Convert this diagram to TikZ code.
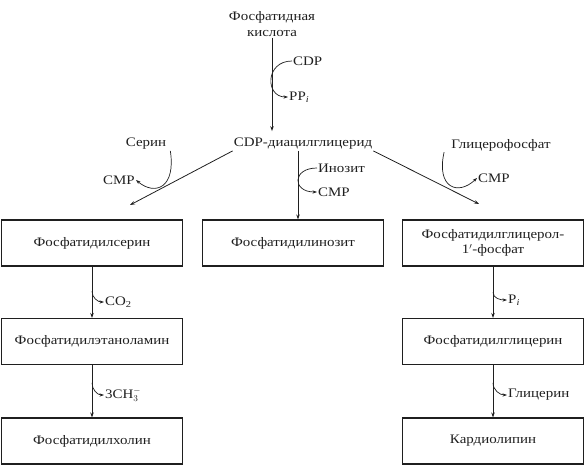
\documentclass[tikz,border=0pt]{standalone}
\usepackage{fontspec}
\setmainfont{Liberation Serif}[FakeStretch=1.15]
\usetikzlibrary{arrows.meta,calc}
\definecolor{ink}{gray}{0.12}
\begin{document}
\begin{tikzpicture}[x=1pt,y=-1pt,
  every node/.style={font=\fontsize{13}{15.5}\selectfont, text=ink},
  box/.style={draw=ink, line width=1.1pt, minimum width=181pt, minimum height=46pt, align=center, inner sep=2pt},
  lbl/.style={inner sep=1pt},
  arr/.style={draw=ink, line width=0.8pt, -{Stealth[length=5pt,width=3.5pt]}},
  hk/.style={draw=ink, line width=0.7pt, -{Stealth[length=4.5pt,width=3.2pt]}}]
\useasboundingbox (0,0) rectangle (586,466);

% boxes
\node[box] (ps)  at (92,243)    {Фосфатидилсерин};
\node[box] (pi)  at (293,243)   {Фосфатидилинозит};
\node[box] (pgp) at (493,243)   {Фосфатидилглицерол-\\1$'$-фосфат};
\node[box] (pe)  at (92,341.5)  {Фосфатидилэтаноламин};
\node[box] (pg)  at (493,341.5) {Фосфатидилглицерин};
\node[box] (pc)  at (92,441)    {Фосфатидилхолин};
\node[box] (cl)  at (493,441)   {Кардиолипин};

% top part
\node[lbl, align=center] (pa) at (272,24) {Фосфатидная\\кислота};
\node[lbl, anchor=west] (cdp) at (292,61) {CDP};
\node[lbl, anchor=west] (ppi) at (288,97) {PP\textsubscript{\textit{i}}};
\node[lbl] (cdpd) at (303,144) {CDP-диацилглицерид};
\node[lbl] (ser) at (146,144) {Серин};
\node[lbl, anchor=east] (cmp1) at (136,180) {CMP};
\node[lbl] (gly) at (501,145) {Глицерофосфат};
\node[lbl, anchor=west] (cmp2) at (477,178) {CMP};
\node[lbl, anchor=west] (ino) at (317,168) {Инозит};
\node[lbl, anchor=west] (cmp3) at (317,192) {CMP};

% lower labels
\node[lbl, anchor=west] (co2) at (104,302) {CO\textsubscript{2}};
\node[lbl, anchor=west] (ch3) at (104,395) {3CH$_3^-$};
\node[lbl, anchor=west] (pii) at (507,300) {P\textsubscript{\textit{i}}};
\node[lbl, anchor=west] (gln) at (507,395) {Глицерин};

\coordinate (lend) at (130,205);
\coordinate (rend) at (479,204);

% connectors
\draw[arr, shorten >=6pt] (pa.south) -- (pa.south |- cdpd.north);
\draw[hk] (cdp.west) .. controls (265,61) and (265,97) .. (ppi.west);

\draw[arr] ([xshift=-5pt]cdpd.south) -- ([xshift=-5pt]cdpd.south |- pi.north);
\draw[hk] (ino.west) .. controls (292,168) and (292,192) .. (cmp3.west);

\draw[arr] (cdpd.south west) -- (lend);
\draw[arr] (cdpd.south east) -- (rend);
\draw[hk] ([xshift=3pt]ser.south east) .. controls (176,188) and (155,196) .. (cmp1.east);
\draw[hk] ([xshift=-6pt]gly.south west) .. controls (436,188) and (458,196) .. (cmp2.west);

\draw[arr] (ps.south) -- (pe.north);
\draw[arr] (pe.south) -- (pc.north);
\draw[arr] (pgp.south) -- (pg.north);
\draw[arr] (pg.south) -- (cl.north);

\draw[hk] ($(ps.south)!0.48!(pe.north)$) to[out=-90,in=180] (co2.west);
\draw[hk] ($(pe.south)!0.34!(pc.north)$) to[out=-90,in=180] (ch3.west);
\draw[hk] ($(pgp.south)!0.50!(pg.north)$) to[out=-90,in=180] (pii.west);
\draw[hk] ($(pg.south)!0.34!(cl.north)$) to[out=-90,in=180] (gln.west);
\end{tikzpicture}
\end{document}
